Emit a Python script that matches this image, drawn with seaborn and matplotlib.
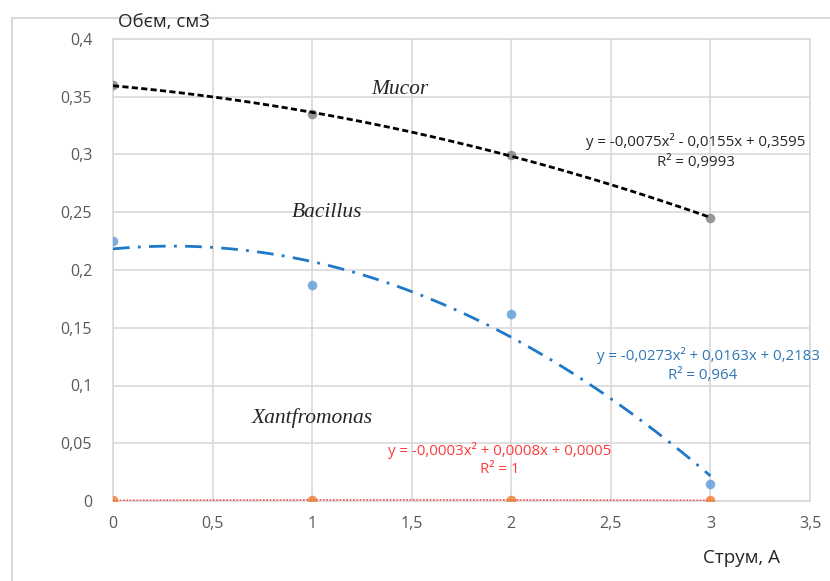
import numpy as np
import pandas as pd
import matplotlib
matplotlib.use("Agg")
import matplotlib.pyplot as plt
import seaborn as sns
from matplotlib.ticker import FuncFormatter, MultipleLocator
from matplotlib.lines import Line2D

# ---- data ----
current = [0, 1, 2, 3]
mucor = [0.360, 0.335, 0.300, 0.245]
bacillus = [0.225, 0.187, 0.162, 0.015]
xantfromonas = [0.0005, 0.001, 0.001, 0.0005]

eq_mucor = "y = -0,0075x² - 0,0155x + 0,3595"
r2_mucor = "R² = 0,9993"
eq_bac = "y = -0,0273x² + 0,0163x + 0,2183"
r2_bac = "R² = 0,964"
eq_xan = "y = -0,0003x² + 0,0008x + 0,0005"
r2_xan = "R² = 1"

y_label = "Обєм, см3"
x_label = "Струм, А"

sns.set_theme(style="white")
plt.rcParams['font.family'] = ['Open Sans', 'DejaVu Sans']

fig = plt.figure(figsize=(8.3, 5.81), dpi=100)
ax = fig.add_axes([113/830, 1-501/581, (810-113)/830, (501-39)/581])

# outer chart frame (left and top edges visible)
fig.lines.append(Line2D([12/830, 12/830], [0, 1-18/581], transform=fig.transFigure,
                        color="#D9D9D9", linewidth=1.5))
fig.lines.append(Line2D([12/830, 1], [1-18/581, 1-18/581], transform=fig.transFigure,
                        color="#D9D9D9", linewidth=1.5))

df = pd.DataFrame({"I": current, "mucor": mucor, "bac": bacillus, "xan": xantfromonas})

sns.regplot(data=df, x="I", y="mucor", order=2, ci=None, ax=ax,
            scatter_kws=dict(s=48, color="#7F7F7F", zorder=3, linewidths=0),
            line_kws=dict(color="black", linestyle=(0, (2.2, 1.2)), linewidth=2, zorder=4))
sns.regplot(data=df, x="I", y="bac", order=2, ci=None, ax=ax,
            scatter_kws=dict(s=48, color="#5B9BD5", zorder=3, linewidths=0),
            line_kws=dict(color="#1F78C8", linestyle=(0, (6, 3, 1, 3)), linewidth=2, zorder=4))
sns.regplot(data=df, x="I", y="xan", order=2, ci=None, ax=ax,
            scatter_kws=dict(s=48, color="#ED7D31", zorder=5, linewidths=0),
            line_kws=dict(color="#FF5050", linestyle=(0, (1, 1)), linewidth=1.2, zorder=4))

ax.set_xlim(0, 3.5)
ax.set_ylim(0, 0.4)
ax.xaxis.set_major_locator(MultipleLocator(0.5))
ax.yaxis.set_major_locator(MultipleLocator(0.05))
fmt = FuncFormatter(lambda v, p: ("%g" % round(v, 3)).replace(".", ","))
ax.xaxis.set_major_formatter(fmt)
ax.yaxis.set_major_formatter(fmt)
ax.grid(True, color="#D9D9D9", linewidth=1.2)
for s in ax.spines.values():
    s.set_color("#D9D9D9")
    s.set_linewidth(1.2)
ax.tick_params(axis="both", length=0, labelsize=11.5, labelcolor="#595959")
ax.tick_params(axis="y", pad=15)
ax.tick_params(axis="x", pad=11)
ax.set_xlabel("")
ax.set_ylabel("")

# axis titles
fig.text(164/830, 1-22/581, y_label, ha="center", va="center", fontsize=13.5, color="#262626")
fig.text(741/830, 1-558/581, x_label, ha="center", va="center", fontsize=13.5, color="#262626")

# series names
serif = dict(family=["Liberation Serif", "DejaVu Serif"], style="italic", fontsize=15.5, color="#262626")
ax.text(1.44, 0.356, "Mucor", ha="center", va="center", **serif)
ax.text(1.075, 0.250, "Bacillus", ha="center", va="center", **serif)
ax.text(1.0, 0.072, "Xantfromonas", ha="center", va="center", **serif)

# trendline equations
eqfs = 10.8
ax.text(2.925, 0.311, eq_mucor, ha="center", va="center", fontsize=eqfs, color="#262626")
ax.text(2.925, 0.293, r2_mucor, ha="center", va="center", fontsize=eqfs, color="#262626")
ax.text(2.99, 0.126, eq_bac, ha="center", va="center", fontsize=eqfs, color="#2E75B6")
ax.text(2.96, 0.109, r2_bac, ha="center", va="center", fontsize=eqfs, color="#2E75B6")
ax.text(1.94, 0.044, eq_xan, ha="center", va="center", fontsize=eqfs, color="#FF3B3B")
ax.text(1.94, 0.027, r2_xan, ha="center", va="center", fontsize=eqfs, color="#FF3B3B")

fig.savefig("out.png", dpi=100)
